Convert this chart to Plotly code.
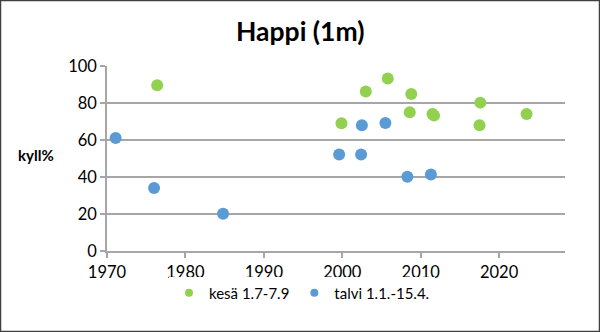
import plotly.graph_objects as go

# Summer (1.7.-7.9.) oxygen saturation at 1 m depth
kesa_year = [1976.4, 1999.9, 2003.0, 2005.8, 2008.8, 2008.6, 2011.5, 2011.7, 2017.6, 2017.5, 2023.5]
kesa_val = [89.6, 69.1, 86.2, 93.2, 84.9, 75.0, 74.0, 73.2, 80.2, 68.0, 74.1]

# Winter (1.1.-15.4.) oxygen saturation at 1 m depth
talvi_year = [1971.1, 1976.0, 1984.8, 1999.6, 2002.4, 2002.5, 2005.5, 2008.3, 2011.3]
talvi_val = [61.1, 34.0, 20.1, 52.2, 52.2, 68.0, 69.2, 40.1, 41.4]

x_ticks = [1970, 1980, 1990, 2000, 2010, 2020]
y_ticks = [0, 20, 40, 60, 80, 100]

W, H = 600, 332
L, R, T, B = 107, 35, 66, 81
pw, ph = W - L - R, H - T - B

FONT = "Lato, 'Open Sans', sans-serif"
GREEN = "#92D050"
BLUE = "#5B9BD5"
GRID = "#A6A6A6"

fig = go.Figure()
series = [
    ("kesä 1.7-7.9", kesa_year, kesa_val, GREEN),
    ("talvi 1.1.-15.4.", talvi_year, talvi_val, BLUE),
]
for name, xs, ys, color in series:
    fig.add_trace(go.Scatter(
        x=xs, y=ys, mode="markers", name=name, showlegend=False,
        marker=dict(color=color, size=12, line=dict(width=0)),
    ))
# legend entries with smaller swatches
for name, xs, ys, color in series:
    fig.add_trace(go.Scatter(
        x=[None], y=[None], mode="markers", name=name,
        marker=dict(color=color, size=8, line=dict(width=0)),
    ))

fig.update_layout(
    width=W, height=H,
    margin=dict(l=L, r=R, t=T, b=B),
    paper_bgcolor="white", plot_bgcolor="white",
    font=dict(family=FONT, size=15, color="#000000"),
    showlegend=True,
    legend=dict(
        orientation="h", x=(302 - L) / pw, xanchor="center",
        y=-(293 - (H - B)) / ph, yanchor="middle",
        font=dict(size=15), itemwidth=30, tracegroupgap=0,
    ),
    xaxis=dict(
        range=[1970, 2028.4], tickvals=x_ticks, showgrid=False,
        showline=True, linecolor=GRID, linewidth=1.5,
        ticks="outside", ticklen=5, tickcolor=GRID, tickwidth=1.5,
        zeroline=False, tickfont=dict(size=16.5),
    ),
    yaxis=dict(
        range=[0, 100], tickvals=y_ticks, showgrid=True,
        gridcolor=GRID, gridwidth=1.5,
        showline=True, linecolor=GRID, linewidth=1.5,
        ticks="outside", ticklen=5, tickcolor=GRID, tickwidth=1.5,
        zeroline=False, tickfont=dict(size=16.5),
    ),
    annotations=[
        dict(text="<b>Happi (1m)</b>", xref="paper", yref="paper",
             x=(300 - L) / pw, y=1 + (T - 31) / ph, xanchor="center", yanchor="middle",
             showarrow=False, font=dict(size=26.5)),
        dict(text="<b>kyll%</b>", xref="paper", yref="paper",
             x=(16 - L) / pw, y=(H - B - 155) / ph, xanchor="left", yanchor="middle",
             showarrow=False, font=dict(size=15)),
    ],
    shapes=[
        dict(type="rect", xref="paper", yref="paper",
             x0=(0.5 - L) / pw, x1=(W - 0.5 - L) / pw,
             y0=-(B - 0.5) / ph, y1=1 + (T - 0.5) / ph,
             line=dict(color="#404040", width=1.5), layer="above"),
    ],
)

fig.write_html("out.html")
